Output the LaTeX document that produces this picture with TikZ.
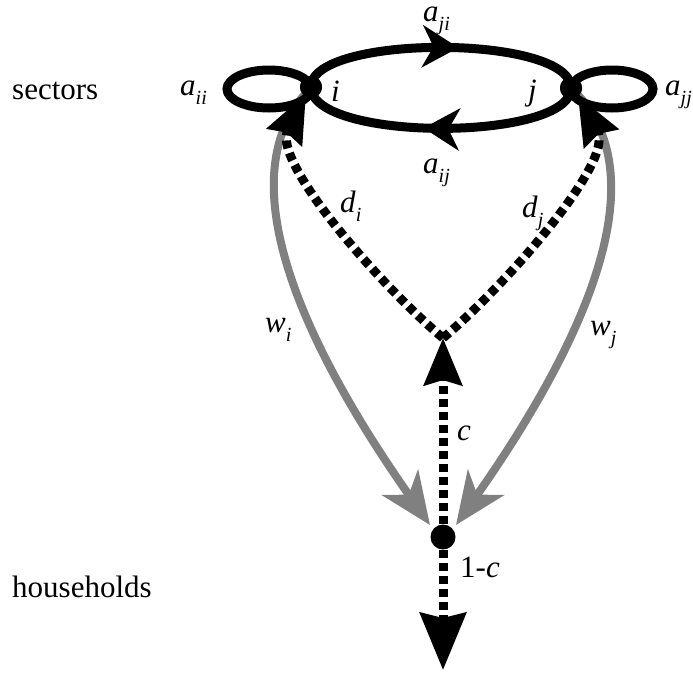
\documentclass[tikz,border=0pt]{standalone}
\usepackage{fontspec}
\setmainfont{Liberation Serif}
\usetikzlibrary{arrows.meta,decorations.markings}
\newcommand\mysub[2]{\textit{#1}\raisebox{-0.3em}{\fontsize{20}{20}\selectfont\textit{#2}}}
\begin{document}
\begin{tikzpicture}[x=1pt,y=-1pt,
  dotnode/.style={circle,fill=black,inner sep=0pt,minimum size=#1},
  flow/.style={line width=9pt,black},
  dflow/.style={line width=9pt,black,dash pattern=on 8pt off 5pt},
  gflow/.style={line width=8pt,color=gray},
  lbl/.style={font=\fontsize{31}{31}\selectfont,inner sep=0pt,anchor=base west},
  big/.style={font=\fontsize{31}{31}\selectfont,inner sep=0pt,anchor=base west},
  midarrow/.style={postaction={decorate},decoration={markings,
    mark=at position #1 with {\arrow{Stealth[length=36pt,width=42pt,inset=11pt]}}}},
  blk/.style={-{Stealth[length=#1,width=0.8*#1,inset=5pt]}},
  gtip/.style={-{Stealth[length=52pt,width=44pt,inset=15pt]}}]
\useasboundingbox (0,0) rectangle (693,675);
% nodes
\node[dotnode=22pt] (i) at (311,87) {};
\node[dotnode=22pt] (j) at (571,88) {};
\node[dotnode=25pt] (h) at (443,537) {};
\coordinate (J) at (443,338);
\coordinate (out) at (443,670);
% grey wage arrows
\draw[gflow,gtip] (305,94) .. controls (230,180) and (300,340) .. (430,525);
\draw[gflow,gtip] (578,95) .. controls (656,180) and (586,340) .. (456,525);
% dashed demand
\draw[dflow,blk=48pt] (J) .. controls (380,285) and (272,162) .. (306,94);
\draw[dflow,blk=48pt] (J) .. controls (506,285) and (614,162) .. (578,96);
\draw[dflow,blk=47pt] (h.center) -- (J);
\draw[dflow,blk=57pt] (h.center) -- (out);
% sector loops
\draw[flow] (269,89) ellipse [x radius=42pt, y radius=19pt];
\draw[flow] (612,89) ellipse [x radius=41pt, y radius=19pt];
% inter-sector flows
\draw[flow,midarrow=0.56] (i.center) .. controls (311,34) and (571,34) .. (j.center);
\draw[flow,midarrow=0.56] (j.center) .. controls (571,142) and (311,142) .. (i.center);
\node[dotnode=22pt] at (i) {};
\node[dotnode=22pt] at (j) {};
% labels
\node[big] (sec) at (12,99) {sectors};
\node[big] (hh) at (12,597) {households};
\node[lbl] (lii) at (180,95) {\mysub{a}{ii}};
\node[lbl] (ljj) at (665,95) {\mysub{a}{jj}};
\node[lbl] (lji) at (423,21) {\mysub{a}{ji}};
\node[lbl] (lij) at (423,173) {\mysub{a}{ij}};
\node[lbl] (li) at (331,101) {\textit{i}};
\node[lbl] (lj) at (528,100) {\textit{j}};
\node[lbl] (ldi) at (340,212) {\mysub{d}{i}};
\node[lbl] (ldj) at (522,217) {\mysub{d}{j}};
\node[lbl] (lwi) at (265,332) {\mysub{w}{i}};
\node[lbl] (lwj) at (590,335) {\mysub{w}{j}};
\node[lbl] (lc) at (457,440) {\textit{c}};
\node[lbl] (l1c) at (460,577) {1-\textit{c}};
\end{tikzpicture}
\end{document}
